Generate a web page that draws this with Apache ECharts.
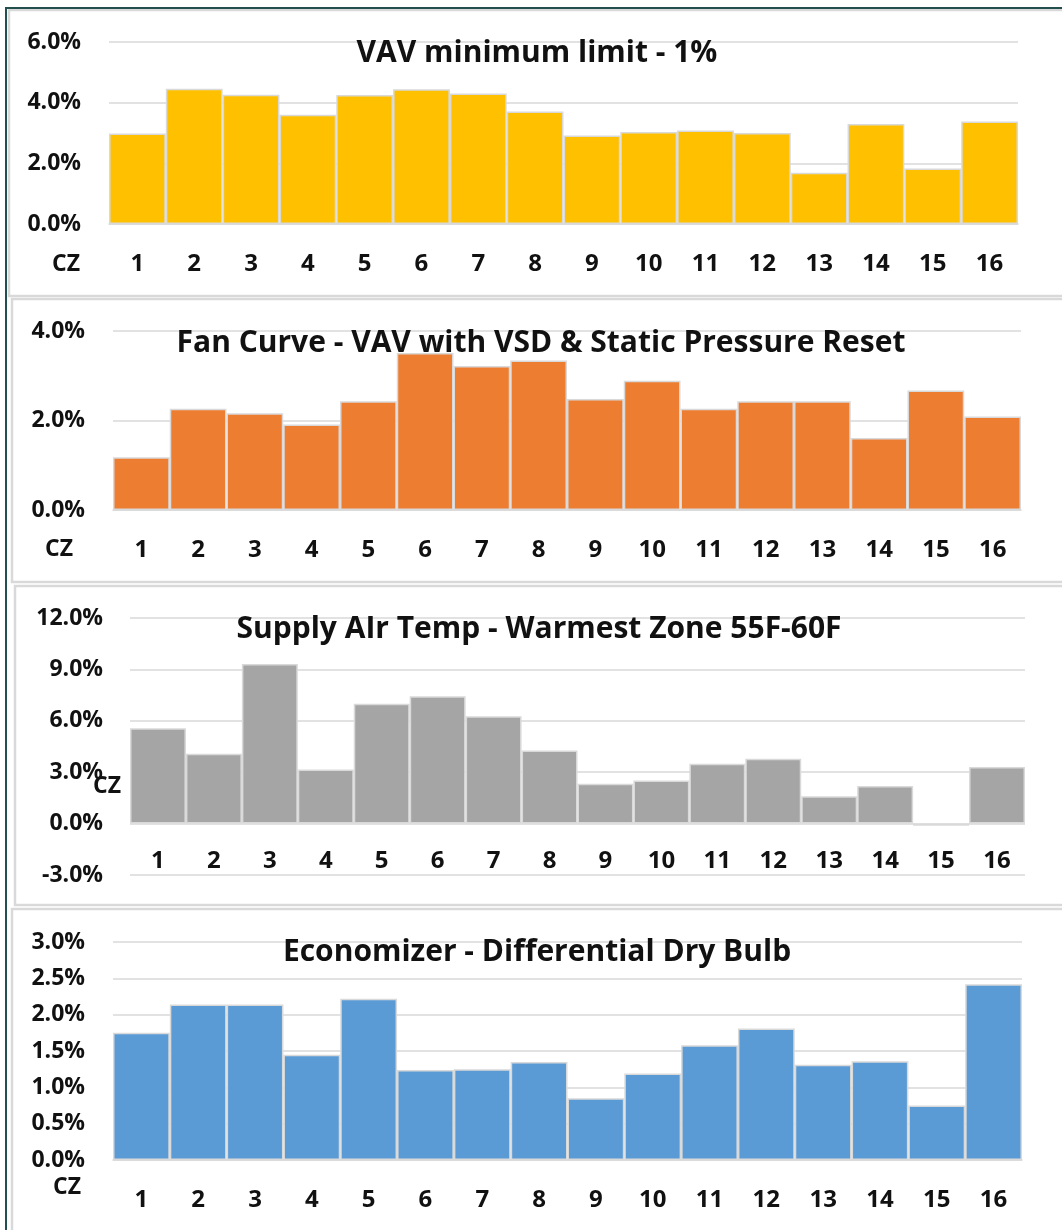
<!DOCTYPE html>
<html>
<head>
<meta charset="utf-8">
<script src="https://cdn.jsdelivr.net/npm/echarts@6/dist/echarts.min.js"></script>
<style>
  html, body { margin: 0; padding: 0; background: #fff; }
  #chart { width: 1062px; height: 1230px; }
</style>
</head>
<body>
<div id="chart"></div>
<script>
// climate zones
var czLabels = ['1', '2', '3', '4', '5', '6', '7', '8', '9', '10', '11', '12', '13', '14', '15', '16'];

// savings in percent
var vavMinLimit = [2.98, 4.46, 4.26, 3.6, 4.25, 4.44, 4.3, 3.71, 2.92, 3.03, 3.08, 3.0, 1.69, 3.3, 1.83, 3.38];
var fanCurve = [1.18, 2.26, 2.16, 1.91, 2.43, 3.51, 3.22, 3.34, 2.48, 2.89, 2.26, 2.43, 2.43, 1.61, 2.67, 2.09];
var supplyAirTemp = [5.57, 4.08, 9.32, 3.16, 6.99, 7.43, 6.27, 4.27, 2.33, 2.52, 3.5, 3.79, 1.59, 2.19, -0.12, 3.3];
var economizer = [1.75, 2.14, 2.14, 1.45, 2.22, 1.24, 1.25, 1.35, 0.85, 1.19, 1.58, 1.81, 1.31, 1.36, 0.75, 2.42];

var chartTitles = [
    'VAV minimum limit - 1%',
    'Fan Curve - VAV with VSD & Static Pressure Reset',
    'Supply AIr Temp - Warmest Zone 55F-60F',
    'Economizer - Differential Dry Bulb'
];
var yMin = [0, 0, -3, 0];
var yMax = [6, 4, 12, 3];
var yStep = [2, 2, 3, 0.5];

var FONT = '"Open Sans", "Liberation Sans", sans-serif';
var gridColor = '#d9d9d9';

// layout of the four stacked panels
var grids = [
    { left: 109, top: 42, width: 909, height: 182 },
    { left: 113, top: 331, width: 908, height: 179 },
    { left: 130, top: 618, width: 895, height: 257 },
    { left: 113, top: 942, width: 909, height: 218 }
];
var panelBoxes = [
    { x: 9, y: 10, h: 286 },
    { x: 12, y: 299, h: 283 },
    { x: 15, y: 586, h: 319 },
    { x: 12, y: 909, h: 330 }
];
var titlePos = [[537, 53], [541, 343], [539, 629], [537, 952]];
var czPos = [[66, 264], [59, 549], [107, 786], [67, 1187]];
var barColors = ['#ffc000', '#ed7d31', '#a5a5a5', '#5b9bd5'];
var seriesData = [vavMinLimit, fanCurve, supplyAirTemp, economizer];

var myChart = echarts.init(document.getElementById('chart'));

var xAxes = [], yAxes = [], series = [], graphics = [];

grids.forEach(function (g, i) {
    var isSat = i === 2;
    xAxes.push({
        type: 'category',
        gridIndex: i,
        data: czLabels,
        axisTick: { show: false },
        axisLine: { onZero: !isSat, show: !isSat, lineStyle: { color: gridColor, width: 1.5 } },
        axisLabel: {
            color: '#111',
            fontFamily: FONT,
            fontWeight: 'bold',
            fontSize: 24,
            inside: isSat,
            margin: isSat ? 2 : 28
        }
    });
    yAxes.push({
        type: 'value',
        gridIndex: i,
        min: yMin[i],
        max: yMax[i],
        interval: yStep[i],
        axisLine: { show: false },
        axisTick: { show: false },
        splitLine: { lineStyle: { color: gridColor, width: 1.5 } },
        axisLabel: {
            color: '#111',
            fontFamily: FONT,
            fontWeight: 'bold',
            fontSize: 23,
            margin: i === 2 ? 27 : 28,
            formatter: function (v) { return v.toFixed(1) + '%'; }
        }
    });
    series.push({
        type: 'bar',
        xAxisIndex: i,
        yAxisIndex: i,
        data: seriesData[i],
        barCategoryGap: 0,
        itemStyle: {
            color: barColors[i],
            borderColor: gridColor,
            borderWidth: 1.5
        }
    });
    graphics.push({
        type: 'rect',
        shape: { x: panelBoxes[i].x, y: panelBoxes[i].y, width: 1070, height: panelBoxes[i].h },
        style: { fill: 'none', stroke: gridColor, lineWidth: 2.5 },
        z: -1
    });
    graphics.push({
        type: 'text',
        x: titlePos[i][0],
        y: titlePos[i][1],
        z: 10,
        style: {
            text: chartTitles[i],
            fill: '#111',
            font: 'bold 30px ' + FONT,
            align: 'center',
            verticalAlign: 'middle'
        }
    });
    graphics.push({
        type: 'text',
        x: czPos[i][0],
        y: czPos[i][1],
        z: 10,
        style: {
            text: 'CZ',
            fill: '#111',
            font: 'bold 23px ' + FONT,
            align: 'center',
            verticalAlign: 'middle'
        }
    });
});

// dark outer frame (left and top edge)
graphics.push({
    type: 'polyline',
    shape: { points: [[6, 1230], [6, 8], [1062, 8]] },
    style: { fill: 'none', stroke: '#234f4f', lineWidth: 2 },
    z: 5
});

var option = {
    animation: false,
    backgroundColor: '#ffffff',
    grid: grids,
    xAxis: xAxes,
    yAxis: yAxes,
    series: series,
    graphic: graphics
};

myChart.setOption(option);
</script>
</body>
</html>
